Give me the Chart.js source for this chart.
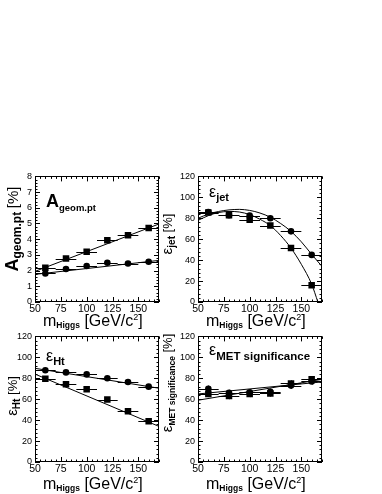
<!DOCTYPE html>
<html>
<head>
<meta charset="utf-8">
<script src="https://cdn.jsdelivr.net/npm/chart.js@4.4.1/dist/chart.umd.min.js"></script>
<style>
  body { margin: 0; background: #fff; width: 382px; height: 494px; position: relative; overflow: hidden;
         font-family: "Liberation Sans", Arial, sans-serif; color: #000; }
  canvas { position: absolute; }
  .txt { position: absolute; white-space: nowrap; line-height: 1; }
  .xt { font-size: 16px; }
  .xt .hs { font-size: 8.5px; font-weight: bold; vertical-align: -0.15em; }
  .xt sup { font-size: 9px; vertical-align: 0.7em; }
  .yt { transform: translate(-50%, -50%) rotate(-90deg); font-size: 13px; }
  .yt .big { font-size: 15px; }
  .yt .bb { font-size: 18px; font-weight: bold; }
  .yt .sb { font-size: 10px; font-weight: bold; vertical-align: -0.3em; }
  .yt .sbl { font-size: 12px; font-weight: bold; vertical-align: -0.3em; }
  .yt .sbs { font-size: 8.5px; font-weight: bold; vertical-align: -0.3em; }
  .yt .pl { font-size: 15px; }
  .in { font-size: 16px; }
  .in .bb { font-size: 18px; font-weight: bold; }
  .in .sb { font-size: 11px; font-weight: bold; vertical-align: -0.4em; }
  .in .sg { font-size: 9.5px; font-weight: bold; vertical-align: -0.45em; }
  .in .sm { font-size: 11.5px; font-weight: bold; vertical-align: -0.4em; }
</style>
</head>
<body>
<canvas id="cGeom" width="167" height="150" style="left:0px;top:168px"></canvas>
<canvas id="cJet" width="167" height="150" style="left:163px;top:168px"></canvas>
<canvas id="cHt" width="167" height="150" style="left:0px;top:328px"></canvas>
<canvas id="cMet" width="167" height="150" style="left:163px;top:328px"></canvas>

<!-- x axis titles -->
<div class="txt xt" style="left:43px;top:313px">m<span class="hs">Higgs</span> [GeV/c<sup>2</sup>]</div>
<div class="txt xt" style="left:206px;top:313px">m<span class="hs">Higgs</span> [GeV/c<sup>2</sup>]</div>
<div class="txt xt" style="left:43px;top:476px">m<span class="hs">Higgs</span> [GeV/c<sup>2</sup>]</div>
<div class="txt xt" style="left:206px;top:476px">m<span class="hs">Higgs</span> [GeV/c<sup>2</sup>]</div>

<!-- y axis titles -->
<div class="txt yt" style="left:13px;top:229px"><span class="bb">A</span><span class="sbl">geom.pt</span> <span class="pl">[%]</span></div>
<div class="txt yt" style="left:168px;top:234px"><span class="big">ε</span><span class="sb">jet</span> [%]</div>
<div class="txt yt" style="left:13px;top:396px"><span class="big">ε</span><span class="sb">Ht</span> [%]</div>
<div class="txt yt" style="left:168px;top:383px"><span class="big">ε</span><span class="sbs">MET significance</span> [%]</div>

<!-- in-plot labels -->
<div class="txt in" style="left:46px;top:192px"><span class="bb">A</span><span class="sg">geom.pt</span></div>
<div class="txt in" style="left:209px;top:184px">ε<span class="sb">jet</span></div>
<div class="txt in" style="left:46px;top:348px">ε<span class="sb">Ht</span></div>
<div class="txt in" style="left:209px;top:342px">ε<span class="sm">MET significance</span></div>

<script>
// Higgs mass points and x axis
const massPoints = [60, 80, 100, 120, 140, 160];
const massErr = 10;
const xTicks = [50, 75, 100, 125, 150];
const fitEnds = [50, 170];

// A geom.pt [%]
const geomSquare = [2.18, 2.77, 3.2, 3.94, 4.25, 4.72];
const geomCircle = [1.82, 2.1, 2.29, 2.5, 2.45, 2.56];
const geomErr = [0.1, 0.1, 0.1, 0.1, 0.1, 0.1];
const geomSquareFit = [1.95, 4.97];
const geomCircleFit = [1.76, 2.65];

// eps jet [%]
const jetSquare = [85.5, 83, 78.5, 73, 51.5, 16];
const jetCircle = [86, 83, 82.5, 80, 67.5, 45];
const jetErr = [2.5, 2.5, 2.5, 2.5, 2.5, 2.5];
const jetCurveMass = [50, 60, 70, 80, 90, 100, 110, 120, 130, 140, 150, 160, 170];
const jetCircleCurve = [80, 84, 86.5, 88, 88.5, 87.5, 85, 81, 75, 67.5, 57.5, 45.5, 34];
const jetSquareCurveMass = [50, 60, 70, 80, 90, 100, 110, 120, 130, 140, 150, 160, 166];
const jetSquareCurve = [78, 82.5, 85.5, 86.5, 86, 83.5, 79, 73, 63.5, 51.5, 36, 17, 0];

// eps Ht [%]
const htCircle = [87.6, 85.6, 83.7, 80, 76.5, 72];
const htSquare = [79.5, 74.3, 69.4, 59.7, 48.6, 38.9];
const htErr = [2, 2, 2, 2, 2, 2];
const htCircleFit = [89.5, 70.5];
const htSquareFit = [84, 34];

// eps MET significance [%]
const metCircle = [70, 66, 66.5, 67, 73, 77];
const metSquare = [65, 63, 65, 65.5, 75, 79];
const metErr = [3, 3, 3, 3, 3, 3];
const metCircleFit = [65, 76.5];
const metSquareFit = [59, 79];

const toXY = (xs, ys) => xs.map((x, i) => ({ x: x, y: ys[i] }));

// error bars drawn through the chart scales
const errorBarPlugin = {
    id: "errorBars",
    afterDatasetsDraw(chart) {
        const ctx = chart.ctx, xs = chart.scales.x, ys = chart.scales.y;
        ctx.save();
        ctx.strokeStyle = "#000";
        ctx.lineWidth = 1;
        chart.data.datasets.forEach(ds => {
            if (!ds.errY) return;
            ds.data.forEach((p, i) => {
                const px = Math.round(xs.getPixelForValue(p.x)) + 0.5;
                const py = Math.round(ys.getPixelForValue(p.y)) + 0.5;
                ctx.beginPath();
                ctx.moveTo(xs.getPixelForValue(p.x - ds.errX), py);
                ctx.lineTo(xs.getPixelForValue(p.x + ds.errX), py);
                ctx.moveTo(px, ys.getPixelForValue(p.y - ds.errY[i]));
                ctx.lineTo(px, ys.getPixelForValue(p.y + ds.errY[i]));
                ctx.stroke();
            });
        });
        ctx.restore();
    }
};

// ROOT style frame with inward ticks on all sides
const framePlugin = {
    id: "frame",
    afterDraw(chart, args, opts) {
        const ctx = chart.ctx, a = chart.chartArea, xs = chart.scales.x, ys = chart.scales.y;
        ctx.save();
        ctx.strokeStyle = "#000";
        ctx.lineWidth = 1;
        ctx.strokeRect(Math.round(a.left) + 0.5, Math.round(a.top) + 0.5,
            Math.round(a.right - a.left) - 1, Math.round(a.bottom - a.top) - 1);
        ctx.beginPath();
        for (let v = xs.min; v <= xs.max + 1e-6; v += 5) {
            const len = (v % 25 === 0) ? 5 : 2.5;
            const px = Math.round(xs.getPixelForValue(v)) + 0.5;
            ctx.moveTo(px, a.bottom); ctx.lineTo(px, a.bottom - len);
            ctx.moveTo(px, a.top); ctx.lineTo(px, a.top + len);
        }
        const minor = opts.yMinor, major = opts.yMajor;
        for (let k = 0; k * minor <= ys.max + 1e-6; k++) {
            const v = k * minor;
            const len = (Math.abs(v / major - Math.round(v / major)) < 1e-6) ? 5 : 2.5;
            const py = Math.round(ys.getPixelForValue(v)) + 0.5;
            ctx.moveTo(a.left, py); ctx.lineTo(a.left + len, py);
            ctx.moveTo(a.right, py); ctx.lineTo(a.right - len, py);
        }
        ctx.stroke();
        ctx.restore();
    }
};

function pointSet(ys, errs, style) {
    return {
        data: toXY(massPoints, ys),
        errX: massErr,
        errY: errs,
        pointStyle: style,
        pointRadius: style === "rect" ? 4.6 : 3.3,
        backgroundColor: "#000",
        borderColor: "#000",
        borderWidth: 0,
        showLine: false
    };
}

function fitSet(xs, ys) {
    return {
        data: toXY(xs, ys),
        showLine: true,
        borderColor: "#000",
        borderWidth: 1,
        pointRadius: 0,
        cubicInterpolationMode: "monotone"
    };
}

function makePanel(id, yMax, yStep, yMinor, datasets) {
    new Chart(document.getElementById(id), {
        type: "scatter",
        data: { datasets: datasets },
        options: {
            responsive: false,
            animation: false,
            events: [],
            layout: { padding: { top: 8, right: 8, left: 0, bottom: 0 } },
            plugins: { legend: { display: false }, tooltip: { enabled: false }, frame: { yMajor: yStep, yMinor: yMinor } },
            scales: {
                x: {
                    type: "linear", min: 50, max: 170,
                    afterBuildTicks: s => { s.ticks = xTicks.map(v => ({ value: v })); },
                    afterFit: s => { s.height = 16; },
                    grid: { display: false, drawTicks: false },
                    border: { display: false },
                    ticks: { color: "#000", padding: 1, maxRotation: 0, autoSkip: false,
                             font: { family: "Liberation Sans", size: 10.5 } }
                },
                y: {
                    type: "linear", min: 0, max: yMax,
                    afterFit: s => { s.width = 35; },
                    grid: { display: false, drawTicks: false },
                    border: { display: false },
                    ticks: { color: "#000", stepSize: yStep, padding: 3,
                             font: { family: "Liberation Sans", size: 9 } }
                }
            }
        },
        plugins: [errorBarPlugin, framePlugin]
    });
}

makePanel("cGeom", 8, 1, 0.2, [
    fitSet(fitEnds, geomSquareFit),
    fitSet(fitEnds, geomCircleFit),
    pointSet(geomSquare, geomErr, "rect"),
    pointSet(geomCircle, geomErr, "circle")
]);

makePanel("cJet", 120, 20, 4, [
    fitSet(jetSquareCurveMass, jetSquareCurve),
    fitSet(jetCurveMass, jetCircleCurve),
    pointSet(jetSquare, jetErr, "rect"),
    pointSet(jetCircle, jetErr, "circle")
]);

makePanel("cHt", 120, 20, 4, [
    fitSet(fitEnds, htSquareFit),
    fitSet(fitEnds, htCircleFit),
    pointSet(htSquare, htErr, "rect"),
    pointSet(htCircle, htErr, "circle")
]);

makePanel("cMet", 120, 20, 4, [
    fitSet(fitEnds, metSquareFit),
    fitSet(fitEnds, metCircleFit),
    pointSet(metSquare, metErr, "rect"),
    pointSet(metCircle, metErr, "circle")
]);
</script>
</body>
</html>
